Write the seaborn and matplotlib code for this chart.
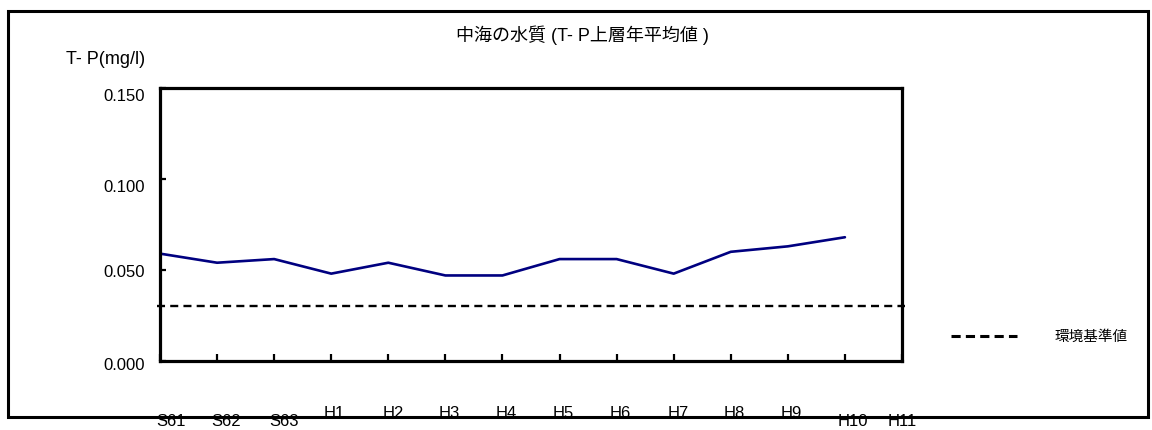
import numpy as np
import pandas as pd
import matplotlib
matplotlib.use("Agg")
import matplotlib.pyplot as plt
import matplotlib.transforms as mtransforms
from matplotlib.lines import Line2D
from matplotlib.patches import Rectangle
import seaborn as sns

# Annual mean total phosphorus (upper layer), Nakaumi
years = ["S61", "S62", "S63", "H1", "H2", "H3", "H4", "H5", "H6", "H7",
         "H8", "H9", "H10", "H11"]
tp_values = [0.059, 0.054, 0.056, 0.048, 0.054, 0.047, 0.047, 0.056, 0.056,
             0.048, 0.060, 0.063, 0.068]
standard_value = 0.030
y_ticks = [0.000, 0.050, 0.100, 0.150]
y_tick_labels = ["0.000", "0.050", "0.100", "0.150"]

sns.set_theme(style="white")
plt.rcParams["font.family"] = ["Liberation Sans", "Noto Sans CJK JP", "DejaVu Sans"]
plt.rcParams["text.color"] = "black"

W, H = 1152, 430
fig = plt.figure(figsize=(W / 100, H / 100), dpi=100)
fig.patch.set_facecolor("white")

# plot area in pixel coordinates
left_px, right_px, top_px, bottom_px = 160, 902, 88, 361
ax = fig.add_axes([left_px / W, 1 - bottom_px / H,
                   (right_px - left_px) / W, (bottom_px - top_px) / H])

df = pd.DataFrame({"pos": np.arange(len(tp_values)), "tp": tp_values})
sns.lineplot(data=df, x="pos", y="tp", ax=ax, color="#000080",
             linewidth=1.9, legend=False)

ax.axhline(standard_value, xmin=-0.004, xmax=1.004, clip_on=False,
           color="black", linewidth=1.7, linestyle=(0, (3.4, 2.2)))

ax.set_xlim(0, len(years) - 1)
ax.set_ylim(0, 0.15)
ax.set_xlabel("")
ax.set_ylabel("")

for s in ax.spines.values():
    s.set_visible(True)
    s.set_color("black")
    s.set_linewidth(2.3)

ax.set_yticks(y_ticks)
ax.set_yticklabels(y_tick_labels)
ax.tick_params(axis="y", direction="in", length=4, width=1.6, color="black",
               labelcolor="black", labelsize=12, pad=11, left=True)
y_shift = [-2.5, -1.0, -7.0, -7.0]
for lab, dy in zip(ax.get_yticklabels(), y_shift):
    lab.set_transform(lab.get_transform() +
                      mtransforms.ScaledTranslation(0, dy / 100, fig.dpi_scale_trans))

ax.set_xticks(np.arange(len(years)))
ax.set_xticklabels([])
ax.tick_params(axis="x", direction="in", length=5, width=1.6, color="black",
               bottom=True)

# category labels, staggered below the chart frame
x_shift = [11, 9, 10, 3, 5, 4, 4, 4, 4, 5, 3, 3, 8, 0]
row_y = [422, 422, 422, 414, 414, 414, 414, 414, 414, 414, 414, 414, 422, 422]
xform = mtransforms.blended_transform_factory(ax.transData, fig.transFigure)
for i, (lab, dx, ry) in enumerate(zip(years, x_shift, row_y)):
    ax.text(i, 1 - ry / H, lab, transform=xform + mtransforms.ScaledTranslation(
        dx / 100, 0, fig.dpi_scale_trans), ha="center", va="center",
        fontsize=12, color="black", clip_on=False)

# titles
fig.text(582.5 / W, 1 - 35 / H, "中海の水質 (T- P上層年平均値 )", ha="center",
         va="center", fontsize=13, color="black")
fig.text(145 / W, 1 - 60 / H, "T- P(mg/l)", ha="right", va="center",
         fontsize=13, color="black")

# legend for the standard line
handle = Line2D([], [], color="black", linewidth=2.2, linestyle=(0, (3, 1.7)))
fig.legend([handle], ["環境基準値"], loc="center left",
           bbox_to_anchor=(944 / W, 1 - 337 / H), frameon=False, borderpad=0,
           handlelength=4.5, handletextpad=2.6, fontsize=10.5,
           labelcolor="black")

# outer chart frame
fig.add_artist(Rectangle((8 / W, 1 - 417 / H), (1148 - 8) / W, (417 - 11) / H,
                         transform=fig.transFigure, fill=False,
                         edgecolor="black", linewidth=2.2, zorder=0))

fig.savefig("out.png", dpi=100, facecolor="white")
